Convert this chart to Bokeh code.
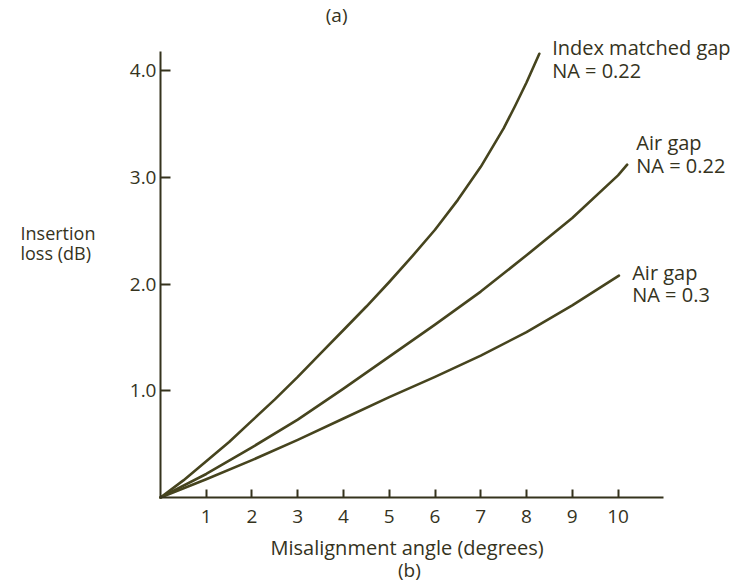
from bokeh.plotting import figure
from bokeh.models import Range1d, FixedTicker, PrintfTickFormatter, Label, LinearAxis
from bokeh.embed import file_html
from bokeh.resources import INLINE

# ---- data ----
angle_index = [0, 0.5, 1, 1.5, 2, 2.5, 3, 3.5, 4, 4.5, 5, 5.5, 6, 6.5, 7, 7.5, 7.75, 8, 8.28]
loss_index = [0, 0.16, 0.34, 0.52, 0.72, 0.92, 1.13, 1.35, 1.57, 1.79, 2.02, 2.26,
              2.51, 2.79, 3.10, 3.46, 3.67, 3.89, 4.16]

angle_air22 = [0, 1, 2, 3, 4, 5, 6, 7, 8, 9, 10, 10.2]
loss_air22 = [0, 0.22, 0.47, 0.73, 1.02, 1.32, 1.62, 1.93, 2.27, 2.62, 3.02, 3.12]

angle_air30 = [0, 1, 2, 3, 4, 5, 6, 7, 8, 9, 10.02]
loss_air30 = [0, 0.17, 0.35, 0.54, 0.74, 0.94, 1.13, 1.33, 1.55, 1.80, 2.08]

series_line1 = ["Index matched gap", "Air gap", "Air gap"]
series_line2 = ["NA = 0.22", "NA = 0.22", "NA = 0.3"]

x_ticks = [1, 2, 3, 4, 5, 6, 7, 8, 9, 10]
y_ticks = [1, 2, 3, 4]

x_title = "Misalignment angle (degrees)"
y_title = ["Insertion", "loss (dB)"]
top_caption = "(a)"
bottom_caption = "(b)"

# ---- styling ----
FONT = "Open Sans"
INK = "#35331d"
LINE = "#46441e"

# the frame fills the whole canvas so no annotation gets clipped;
# the axes are pinned at x = 0 and y = 0 inside it
p = figure(width=734, height=584,
           x_range=Range1d(-3.497, 12.546), y_range=Range1d(-0.816, 4.659),
           x_axis_type=None, y_axis_type=None,
           output_backend="svg", toolbar_location=None, min_border=0)
p.background_fill_color = "white"
p.border_fill_color = "white"
p.outline_line_color = None
p.grid.visible = False

for xs, ys in [(angle_index, loss_index), (angle_air22, loss_air22), (angle_air30, loss_air30)]:
    p.line(xs, ys, line_color=LINE, line_width=2.6, line_cap="round", line_join="round")

xaxis = LinearAxis(fixed_location=0, bounds=(0, 11), ticker=FixedTicker(ticks=x_ticks))
yaxis = LinearAxis(fixed_location=0, bounds=(0, 4.18), ticker=FixedTicker(ticks=y_ticks),
                   formatter=PrintfTickFormatter(format="%.1f"))

for ax in (xaxis, yaxis):
    ax.axis_line_color = INK
    ax.axis_line_width = 2
    ax.major_tick_line_color = INK
    ax.major_tick_line_width = 2
    ax.major_tick_out = 0
    ax.minor_tick_line_color = None
    ax.major_label_text_font = FONT
    ax.major_label_text_font_size = "19px"
    ax.major_label_text_color = INK

xaxis.major_tick_in = 8
xaxis.major_label_standoff = 13
yaxis.major_tick_in = 10
yaxis.major_label_standoff = 4

p.add_layout(xaxis, "below")
p.add_layout(yaxis, "left")


def add_label(x, y, text, align="left", size="20px"):
    p.add_layout(Label(x=x, y=y, text=text, text_font=FONT, text_font_size=size,
                       text_color=INK, text_align=align, text_baseline="alphabetic"))


# curve annotations
add_label(8.56, 4.215, series_line1[0])
add_label(8.56, 4.0, series_line2[0])
add_label(10.40, 3.325, series_line1[1])
add_label(10.40, 3.115, series_line2[1])
add_label(10.31, 2.105, series_line1[2])
add_label(10.31, 1.90, series_line2[2])

# axis titles and captions
add_label(-3.06, 2.48, y_title[0], size="18px")
add_label(-3.06, 2.293, y_title[1], size="18px")
add_label(5.39, -0.465, x_title, align="center", size="20px")
add_label(5.44, -0.68, bottom_caption, align="center", size="19px")
add_label(3.85, 4.525, top_caption, align="center", size="19px")

open("out.html", "w").write(file_html(p, INLINE))
